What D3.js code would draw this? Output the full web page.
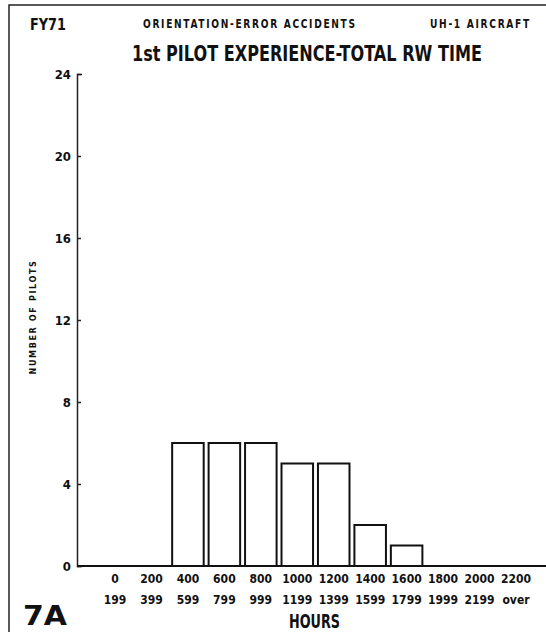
<!DOCTYPE html>
<html>
<head>
<meta charset="utf-8">
<script src="https://cdn.jsdelivr.net/npm/d3@7"></script>
<style>
  body { margin: 0; background: #fff; }
  svg { display: block; }
  text { font-family: "DejaVu Sans Condensed", "DejaVu Sans", sans-serif; font-stretch: condensed; font-weight: bold; fill: #111; }
</style>
</head>
<body>
<div id="chart"></div>
<script>
// hour bins (lower / upper bound) and number of pilots
const binLow = ["0", "200", "400", "600", "800", "1000", "1200", "1400", "1600", "1800", "2000", "2200"];
const binHigh = ["199", "399", "599", "799", "999", "1199", "1399", "1599", "1799", "1999", "2199", "over"];
const pilots = [0, 0, 6, 6, 6, 5, 5, 2, 1, 0, 0, 0];
const yTicks = [0, 4, 8, 12, 16, 20, 24];

const width = 546;
const height = 632;
const fontFam = "'DejaVu Sans Condensed', 'DejaVu Sans', sans-serif";

const svg = d3.select("#chart").append("svg")
    .attr("width", width)
    .attr("height", height);

// page frame (left + top edges of the scanned sheet)
svg.append("path")
    .attr("d", "M9,632 L9,5 L546,5")
    .attr("fill", "none")
    .attr("stroke", "#222")
    .attr("stroke-width", 1.5);

// scales
const x = d3.scaleBand()
    .domain(binLow)
    .range([96.8, 534.2])
    .paddingInner(0.135)
    .paddingOuter(0.0675);

const y = d3.scaleLinear()
    .domain([0, 24])
    .range([566, 74]);

// helper: text squeezed horizontally to a given width (narrow typewriter look)
function label(txt, xPos, yPos, size, len, spacing, sy) {
    const t = svg.append("text")
        .style("font-size", size + "px")
        .style("letter-spacing", (spacing || 0) + "px")
        .text(txt);
    const w = t.node().getComputedTextLength();
    const sx = len / w;
    t.attr("transform", `translate(${xPos},${yPos}) scale(${sx},${sy || 1})`);
    return t;
}

// header texts
label("FY71", 30, 30, 15, 36);
label("ORIENTATION-ERROR ACCIDENTS", 143, 28, 12, 214, 2);
label("UH-1 AIRCRAFT", 430, 28, 12, 101, 2);
label("1st PILOT EXPERIENCE-TOTAL RW TIME", 132, 61, 22, 350);

// y axis
const yAxis = d3.axisLeft(y)
    .tickValues(yTicks)
    .tickSizeInner(-4)
    .tickSizeOuter(-5)
    .tickPadding(6);

const gy = svg.append("g")
    .attr("transform", "translate(77,0)")
    .call(yAxis);
gy.select(".domain").attr("stroke", "#222").attr("stroke-width", 1.5);
gy.selectAll(".tick line").attr("stroke", "#222").attr("stroke-width", 1.5);
gy.selectAll(".tick text")
    .style("font-size", "13px")
    .style("font-family", fontFam)
    .style("font-stretch", "condensed")
    .style("font-weight", "bold")
    .attr("fill", "#111");

svg.append("text")
    .attr("transform", "translate(36,317) rotate(-90)")
    .attr("text-anchor", "middle")
    .style("font-size", "9px")
    .style("letter-spacing", "1.6px")
    .text("NUMBER OF PILOTS");

// bars
svg.selectAll(".bar")
    .data(pilots.map((v, i) => ({ low: binLow[i], value: v })).filter(d => d.value > 0))
    .enter().append("rect")
    .attr("class", "bar")
    .attr("x", d => x(d.low))
    .attr("y", d => y(d.value))
    .attr("width", x.bandwidth())
    .attr("height", d => y(0) - y(d.value))
    .attr("fill", "#fff")
    .attr("stroke", "#111")
    .attr("stroke-width", 2);

// baseline
svg.append("line")
    .attr("x1", 77).attr("x2", width)
    .attr("y1", y(0)).attr("y2", y(0))
    .attr("stroke", "#111")
    .attr("stroke-width", 2);

// x axis: two-line bin labels
const gx = svg.append("g")
    .attr("transform", `translate(0,${y(0)})`)
    .call(d3.axisBottom(x).tickSize(0));
gx.select(".domain").remove();
gx.selectAll(".tick text")
    .style("font-size", "12px")
    .style("font-family", fontFam)
    .style("font-stretch", "condensed")
    .style("font-weight", "bold")
    .attr("fill", "#111")
    .attr("dy", null)
    .attr("y", 0)
    .each(function (d, i) {
        const t = d3.select(this).text("");
        t.append("tspan").attr("x", 0).attr("y", 17).text(binLow[i]);
        t.append("tspan").attr("x", 0).attr("y", 38).text(binHigh[i]);
    });

label("HOURS", 289, 628, 16, 51, 0, 1.2);
label("7A", 23, 625, 26, 44);
</script>
</body>
</html>
